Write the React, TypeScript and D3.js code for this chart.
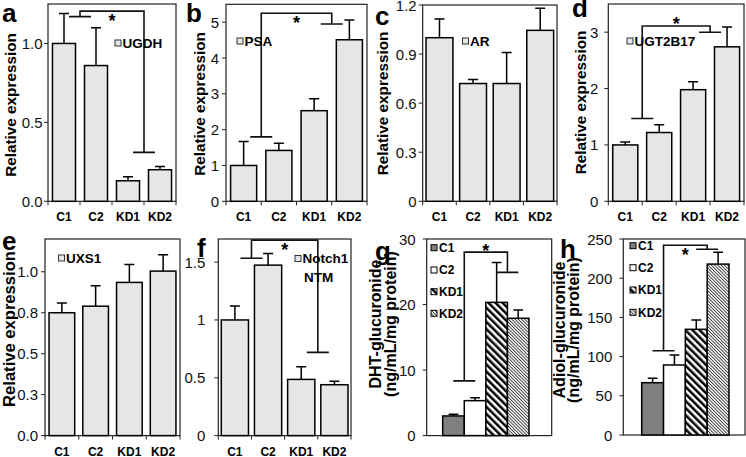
import React, { useEffect } from "react";
import * as d3 from "d3";

// ---------- data ----------
const categories = ["C1", "C2", "KD1", "KD2"];

const ugdhMean = [1.0, 0.86, 0.13, 0.2];
const ugdhErr = [0.19, 0.24, 0.026, 0.02];
const psaMean = [1.0, 1.42, 2.53, 4.51];
const psaErr = [0.67, 0.2, 0.33, 0.55];
const arMean = [1.0, 0.72, 0.72, 1.045];
const arErr = [0.114, 0.025, 0.19, 0.135];
const ugt2b17Mean = [1.0, 1.22, 1.98, 2.74];
const ugt2b17Err = [0.05, 0.14, 0.14, 0.35];
const uxs1Mean = [0.75, 0.79, 0.935, 1.004];
const uxs1Err = [0.06, 0.125, 0.11, 0.1];
const notchMean = [1.0, 1.474, 0.486, 0.44];
const notchErr = [0.12, 0.1, 0.11, 0.03];
const dhtMean = [3.0, 5.33, 20.33, 17.9];
const dhtErr = [0.25, 0.45, 6.1, 1.25];
const adiolMean = [66.7, 89.3, 134.8, 218];
const adiolErr = [5.6, 12.7, 12, 15];

const ticksA = [0, 0.5, 1.0];
const tickLabelsA = ["0.0", "0.5", "1.0"];
const ticksB = [0, 1, 2, 3, 4, 5];
const tickLabelsB = ["0", "1", "2", "3", "4", "5"];
const ticksC = [0, 0.3, 0.6, 0.9, 1.2];
const tickLabelsC = ["0", "0.3", "0.6", "0.9", "1.2"];
const ticksD = [0, 1, 2, 3];
const tickLabelsD = ["0", "1", "2", "3"];
const ticksE = [0, 0.25, 0.5, 0.75, 1.0];
const tickLabelsE = ["0.0", "0.3", "0.5", "0.8", "1.0"];
const ticksF = [0, 0.5, 1, 1.5];
const tickLabelsF = ["0", "0.5", "1", "1.5"];
const ticksG = [0, 10, 20, 30];
const tickLabelsG = ["0", "10", "20", "30"];
const ticksH = [0, 50, 100, 150, 200, 250];
const tickLabelsH = ["0", "50", "100", "150", "200", "250"];

// significance brackets (data units): left group y, right group y, top y
const bracketA = { leftY: 1.17, rightY: 0.31, topY: 1.205, above: false };
const bracketB = { leftY: 1.8, rightY: 4.95, topY: 5.25, above: false };
const bracketD = { leftY: 1.47, rightY: 3.0, topY: 3.11, above: true };
const bracketF = { leftY: 1.533, rightY: 0.72, topY: 1.69, above: false };
const bracketG = { leftY: 8.35, rightY: 24.9, topY: 28, above: true };
const bracketH = { leftY: 107.4, rightY: 237, topY: 242, above: false };

const FONT = "Liberation Sans, Arial, Helvetica, sans-serif";
const GREY = "#e6e6e6";

type Bracket = { leftY: number; rightY: number; topY: number; above: boolean };
type Panel = {
  letter: string;
  letterPos: [number, number];
  x0: number;
  x1: number;
  yTop: number;
  yBottom: number;
  yMax: number;
  ticks: number[];
  tickLabels: string[];
  tickGap: number;
  means: number[];
  errs: number[];
  barRange?: [number, number];
  padding: number;
  fills: string[];
  showCats: boolean;
  title: string[];
  titleX: number[];
  titleY: number;
  titleSize: number;
  legendSingle?: { x: number; y: number; lines: string[] };
  legendMulti?: { x: number; ys: number[] };
  bracket?: Bracket;
};

const grey4 = [GREY, GREY, GREY, GREY];
const patternFills = ["#808080", "#ffffff", "url(#hatchWide)", "url(#hatchFine)"];

const panels: Panel[] = [
  {
    letter: "a", letterPos: [2, 21.7], x0: 48, x1: 176, yTop: 4, yBottom: 201.3, yMax: 1.25,
    ticks: ticksA, tickLabels: tickLabelsA, tickGap: 5.5, means: ugdhMean, errs: ugdhErr, padding: 0.28,
    fills: grey4, showCats: true, title: ["Relative expression"], titleX: [10], titleY: 105, titleSize: 15.3,
    legendSingle: { x: 115, y: 40, lines: ["UGDH"] }, bracket: bracketA,
  },
  {
    letter: "b", letterPos: [186, 21.7], x0: 226, x1: 367, yTop: 4.3, yBottom: 201.3, yMax: 5.5,
    ticks: ticksB, tickLabels: tickLabelsB, tickGap: 7, means: psaMean, errs: psaErr, padding: 0.26,
    fills: grey4, showCats: true, title: ["Relative expression"], titleX: [199], titleY: 104, titleSize: 15.3,
    legendSingle: { x: 237, y: 38, lines: ["PSA"] }, bracket: bracketB,
  },
  {
    letter: "c", letterPos: [375, 25], x0: 422.7, x1: 557, yTop: 5, yBottom: 201.3, yMax: 1.2,
    ticks: ticksC, tickLabels: tickLabelsC, tickGap: 6, means: arMean, errs: arErr, padding: 0.2,
    fills: grey4, showCats: true, title: ["Relative expression"], titleX: [382], titleY: 103.5, titleSize: 15.3,
    legendSingle: { x: 462.5, y: 38, lines: ["AR"] },
  },
  {
    letter: "d", letterPos: [572, 17], x0: 608.3, x1: 744, yTop: 4, yBottom: 201.3, yMax: 3.5,
    ticks: ticksD, tickLabels: tickLabelsD, tickGap: 10, means: ugt2b17Mean, errs: ugt2b17Err, padding: 0.26,
    fills: grey4, showCats: true, title: ["Relative expression"], titleX: [580], titleY: 102.5, titleSize: 15.3,
    legendSingle: { x: 627, y: 38, lines: ["UGT2B17"] }, bracket: bracketD,
  },
  {
    letter: "e", letterPos: [2, 250], x0: 45, x1: 180, yTop: 239, yBottom: 435.6, yMax: 1.2,
    ticks: ticksE, tickLabels: tickLabelsE, tickGap: 7, means: uxs1Mean, errs: uxs1Err, padding: 0.24,
    fills: grey4, showCats: true, title: ["Relative expression"], titleX: [9.5], titleY: 329, titleSize: 16.6,
    legendSingle: { x: 58.5, y: 255, lines: ["UXS1"] },
  },
  {
    letter: "f", letterPos: [197, 257], x0: 218.3, x1: 351, yTop: 239, yBottom: 435.6, yMax: 1.7,
    ticks: ticksF, tickLabels: tickLabelsF, tickGap: 13, means: notchMean, errs: notchErr, padding: 0.18,
    fills: grey4, showCats: true, title: [], titleX: [], titleY: 0, titleSize: 15,
    legendSingle: { x: 295, y: 255.5, lines: ["Notch1", "NTM"] }, bracket: bracketF,
  },
  {
    letter: "g", letterPos: [375, 259.5], x0: 426.7, x1: 551.7, yTop: 239, yBottom: 435.6, yMax: 30,
    ticks: ticksG, tickLabels: tickLabelsG, tickGap: 11, means: dhtMean, errs: dhtErr, barRange: [442.7, 529], padding: 0,
    fills: patternFills, showCats: false,
    title: ["DHT-glucuronide", "(ng/mL/mg protein)"], titleX: [375, 390], titleY: 324, titleSize: 16,
    legendMulti: { x: 431, ys: [247.7, 270, 291.7, 313.3] }, bracket: bracketG,
  },
  {
    letter: "h", letterPos: [560, 258], x0: 623.3, x1: 745, yTop: 239, yBottom: 435, yMax: 250,
    ticks: ticksH, tickLabels: tickLabelsH, tickGap: 11, means: adiolMean, errs: adiolErr, barRange: [641.7, 729], padding: 0,
    fills: patternFills, showCats: false,
    title: ["Adiol-glucuronide", "(ng/mL/mg protein)"], titleX: [559, 573], titleY: 330, titleSize: 16,
    legendMulti: { x: 630, ys: [245.7, 267.7, 290, 312.3] }, bracket: bracketH,
  },
];

function PanelView({ p }: { p: Panel }) {
  const range = p.barRange ?? [p.x0, p.x1];
  const x = d3
    .scaleBand<string>()
    .domain(categories)
    .range(range)
    .paddingInner(p.padding)
    .paddingOuter(p.padding / 2);
  const y = d3.scaleLinear().domain([0, p.yMax]).range([p.yBottom, p.yTop]);
  const bw = x.bandwidth();
  const step = x.step();
  const cx = (c: string) => (x(c) as number) + bw / 2;

  const catTicks: number[] = [p.x0];
  for (let i = 1; i < categories.length; i++) {
    catTicks.push((cx(categories[i - 1]) + cx(categories[i])) / 2);
  }
  catTicks.push(p.x1);

  let bracketEl = null;
  if (p.bracket) {
    const b = p.bracket;
    const lx = p.barRange ? (x("C2") as number) : (cx("C1") + cx("C2")) / 2;
    const rx = p.barRange ? (x("KD2") as number) : (cx("KD1") + cx("KD2")) / 2;
    const ly = y(b.leftY);
    const ry = y(b.rightY);
    const ty = y(b.topY);
    const cw = 11;
    const d = `M${lx - cw},${ly}H${lx + cw}M${lx},${ly}V${ty}H${rx}V${ry}M${rx - cw},${ry}H${rx + cw}`;
    bracketEl = (
      <g>
        <path d={d} fill="none" stroke="#111" strokeWidth={1.6} />
        <text
          x={(lx + rx) / 2}
          y={b.above ? ty + 4.5 : ty + 16}
          textAnchor="middle"
          fontFamily={FONT}
          fontWeight="bold"
          fontSize={18}
          fill="#000"
        >
          *
        </text>
      </g>
    );
  }

  return (
    <g>
      <rect
        x={p.x0}
        y={p.yTop}
        width={p.x1 - p.x0}
        height={p.yBottom - p.yTop}
        fill="none"
        stroke="#222"
        strokeWidth={1.2}
      />
      {p.ticks.map((t, i) => (
        <g key={"t" + i}>
          <line x1={p.x0 - 4} x2={p.x0} y1={y(t)} y2={y(t)} stroke="#222" strokeWidth={1} />
          <text
            x={p.x0 - p.tickGap}
            y={y(t)}
            textAnchor="end"
            dominantBaseline="central"
            fontFamily={FONT}
            fontSize={15}
            fill="#111"
          >
            {p.tickLabels[i]}
          </text>
        </g>
      ))}
      {p.showCats &&
        catTicks.map((t, i) => (
          <line key={"ct" + i} x1={t} x2={t} y1={p.yBottom} y2={p.yBottom + 4} stroke="#222" strokeWidth={1} />
        ))}
      {p.showCats &&
        categories.map((c) => (
          <text
            key={"cl" + c}
            x={cx(c)}
            y={p.yBottom + 20}
            textAnchor="middle"
            fontFamily={FONT}
            fontWeight="bold"
            fontSize={12}
            fill="#000"
          >
            {c}
          </text>
        ))}
      {categories.map((c, i) => (
        <rect
          key={"b" + c}
          x={x(c) as number}
          y={y(p.means[i])}
          width={bw}
          height={p.yBottom - y(p.means[i])}
          fill={p.fills[i]}
          stroke="#000"
          strokeWidth={1.5}
        />
      ))}
      {categories.map((c, i) => {
        const top = y(p.means[i] + p.errs[i]);
        const base = y(p.means[i]);
        const xc = cx(c);
        const capW = Math.min(10, step * 0.45);
        return (
          <path
            key={"e" + c}
            d={`M${xc},${base}V${top}M${xc - capW / 2},${top}H${xc + capW / 2}`}
            stroke="#000"
            strokeWidth={1.5}
            fill="none"
          />
        );
      })}
      {bracketEl}
      {p.legendSingle && (
        <g>
          <rect x={p.legendSingle.x} y={p.legendSingle.y} width={6} height={6} fill={GREY} stroke="#333" strokeWidth={1} />
          {p.legendSingle.lines.map((l, i) => (
            <text
              key={"ls" + i}
              x={p.legendSingle!.x + 7.5 + (i > 0 ? 1.5 : 0)}
              y={p.legendSingle!.y + 7.5 + i * 19}
              fontFamily={FONT}
              fontWeight="bold"
              fontSize={13.5}
              fill="#000"
            >
              {l}
            </text>
          ))}
        </g>
      )}
      {p.legendMulti &&
        categories.map((c, i) => (
          <g key={"lm" + c}>
            <rect
              x={p.legendMulti!.x}
              y={p.legendMulti!.ys[i] - 3}
              width={6}
              height={6}
              fill={p.fills[i]}
              stroke="#000"
              strokeWidth={1}
            />
            <text
              x={p.legendMulti!.x + 8}
              y={p.legendMulti!.ys[i] + 4.3}
              fontFamily={FONT}
              fontWeight="bold"
              fontSize={12}
              fill="#000"
            >
              {c}
            </text>
          </g>
        ))}
      {p.title.map((t, i) => (
        <text
          key={"tt" + i}
          transform={`translate(${p.titleX[i]},${p.titleY}) rotate(-90)`}
          textAnchor="middle"
          dominantBaseline="central"
          fontFamily={FONT}
          fontWeight="bold"
          fontSize={p.titleSize}
          fill="#000"
        >
          {t}
        </text>
      ))}
      <text
        x={p.letterPos[0]}
        y={p.letterPos[1]}
        fontFamily={FONT}
        fontWeight="bold"
        fontSize={26}
        fill="#000"
      >
        {p.letter}
      </text>
    </g>
  );
}

export default function App() {
  useEffect(() => {
    document.body.style.margin = "0";
  }, []);
  return (
    <svg
      width={746}
      height={457}
      viewBox="0 0 746 457"
      style={{ position: "absolute", left: 0, top: 0, background: "#fff" }}
    >
      <defs>
        <pattern id="hatchWide" patternUnits="userSpaceOnUse" width={5} height={5} patternTransform="rotate(-45)">
          <rect width={5} height={5} fill="#fff" />
          <rect width={2.5} height={5} fill="#000" />
        </pattern>
        <pattern id="hatchFine" patternUnits="userSpaceOnUse" width={2.3} height={2.3} patternTransform="rotate(-45)">
          <rect width={2.3} height={2.3} fill="#fff" />
          <rect width={0.9} height={2.3} fill="#333" />
        </pattern>
      </defs>
      <rect x={0} y={0} width={746} height={457} fill="#fff" />
      {panels.map((p) => (
        <PanelView key={p.letter} p={p} />
      ))}
    </svg>
  );
}
